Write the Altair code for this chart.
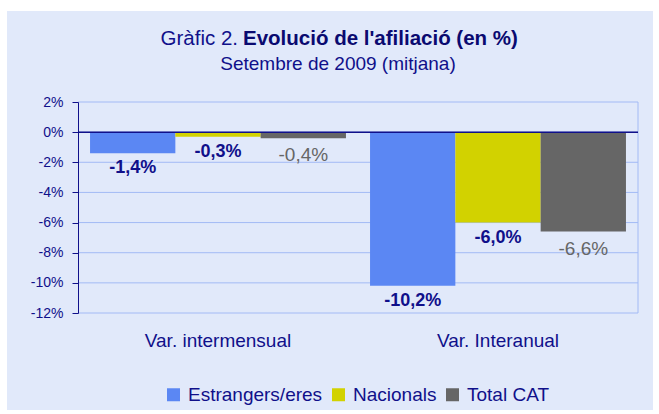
import altair as alt
import pandas as pd

# ---- data ----
categories = ["Var. intermensual", "Var. Interanual"]
series = ["Estrangers/eres", "Nacionals", "Total CAT"]
estrangers = [-1.4, -10.2]
nacionals = [-0.3, -6.0]
total_cat = [-0.4, -6.6]
y_ticks = [2, 0, -2, -4, -6, -8, -10, -12]
title_a = "Gràfic 2."
title_b = "Evolució de l'afiliació (en %)"
subtitle = "Setembre de 2009 (mitjana)"

rows = []
for i, c in enumerate(categories):
    for s, vals in zip(series, [estrangers, nacionals, total_cat]):
        rows.append({"cat": c, "serie": s, "value": vals[i]})
df = pd.DataFrame(rows)
grid_df = pd.DataFrame({"value": y_ticks})
zero_df = pd.DataFrame({"value": [0]})

NAVY = "#10108A"
GRID = "#A3BAF5"
BG = "#E1E9FA"
colors = ["#5B87F3", "#D2D200", "#666666"]
FONT = "Liberation Sans"

W, H = 560, 211

y_scale = alt.Scale(domain=[-12, 2], nice=False, zero=False)
x_scale = alt.Scale(paddingInner=0.086, paddingOuter=0.043)
x_axis = alt.Axis(title=None, labelFontSize=19, labelColor=NAVY, domain=False,
                  ticks=False, labelPadding=18, labelAngle=0, zindex=1, labelFont=FONT)
y_axis = alt.Axis(title=None, values=y_ticks, grid=False, domainColor=NAVY,
                  tickColor=NAVY, tickSize=6, labelColor=NAVY, labelFontSize=14,
                  labelPadding=9, labelExpr="datum.value + '%'", zindex=1,
                  labelFont=FONT)

x_enc = alt.X("cat:N", sort=categories, scale=x_scale, axis=x_axis)
y_enc = alt.Y("value:Q", scale=y_scale, axis=y_axis)
xoff = alt.XOffset("serie:N", sort=series, scale=alt.Scale(paddingInner=0, paddingOuter=0))

bg = alt.Chart(pd.DataFrame({"a": [0]})).mark_rect(fill=BG).encode(
    x=alt.value(-71), x2=alt.value(575), y=alt.value(-91), y2=alt.value(308))

grid = alt.Chart(grid_df).mark_rule(color=GRID, strokeWidth=1).encode(y=y_enc)

right_border = alt.Chart(pd.DataFrame({"a": [0]})).mark_rule(color=GRID, strokeWidth=1).encode(
    x=alt.value(W), y=alt.value(0), y2=alt.value(H))

bars = alt.Chart(df).mark_bar(cornerRadius=0).encode(
    x=x_enc,
    xOffset=xoff,
    y=y_enc,
    color=alt.Color("serie:N", sort=series,
                    scale=alt.Scale(domain=series, range=colors),
                    legend=alt.Legend(title=None, orient="none", legendX=86, legendY=283,
                                      direction="horizontal", symbolType="square",
                                      symbolSize=169, symbolStrokeWidth=0,
                                      labelFontSize=19, labelColor=NAVY, labelFont=FONT,
                                      columnPadding=6, labelOffset=5, padding=0)),
)

zero = alt.Chart(zero_df).mark_rule(color=NAVY, strokeWidth=1.5).encode(y=y_enc)

lbl_expr = "replace(replace(format(datum.value, '.1f'), '.', ','), '\u2212', '-') + '%'"

labels_navy = alt.Chart(df).transform_filter(
    alt.datum.serie != "Total CAT"
).transform_calculate(lbl=lbl_expr).mark_text(
    fontSize=18, fontWeight="bold", baseline="middle", dy=15, font=FONT, color=NAVY
).encode(x=x_enc, xOffset=xoff, y=y_enc, text="lbl:N")

labels_gray = alt.Chart(df).transform_filter(
    alt.datum.serie == "Total CAT"
).transform_calculate(lbl=lbl_expr).mark_text(
    fontSize=19, baseline="middle", dy=17, font=FONT, color="#666666"
).encode(x=x_enc, xOffset=xoff, y=y_enc, text="lbl:N")

t_a = alt.Chart(pd.DataFrame({"t": [title_a]})).mark_text(
    fontSize=20.5, align="right", baseline="middle", color=NAVY, font=FONT).encode(
    x=alt.value(160), y=alt.value(-63), text="t:N")
t_b = alt.Chart(pd.DataFrame({"t": [title_b]})).mark_text(
    fontSize=20.5, fontWeight="bold", align="left", baseline="middle", color="#0A0A70",
    font=FONT).encode(x=alt.value(165), y=alt.value(-63), text="t:N")
t_s = alt.Chart(pd.DataFrame({"t": [subtitle]})).mark_text(
    fontSize=19, align="center", baseline="middle", color=NAVY, font=FONT).encode(
    x=alt.value(260), y=alt.value(-38), text="t:N")

chart = alt.layer(bg, grid, right_border, bars, zero, labels_navy, labels_gray,
                  t_a, t_b, t_s).properties(
    width=W, height=H,
    autosize=alt.AutoSizeParams(type="none"),
    padding={"left": 78, "top": 102, "right": 21, "bottom": 101},
    background="white",
).configure_view(stroke=None).configure(font=FONT)

chart.save("out.html", embed_options={"renderer": "svg", "actions": False})
